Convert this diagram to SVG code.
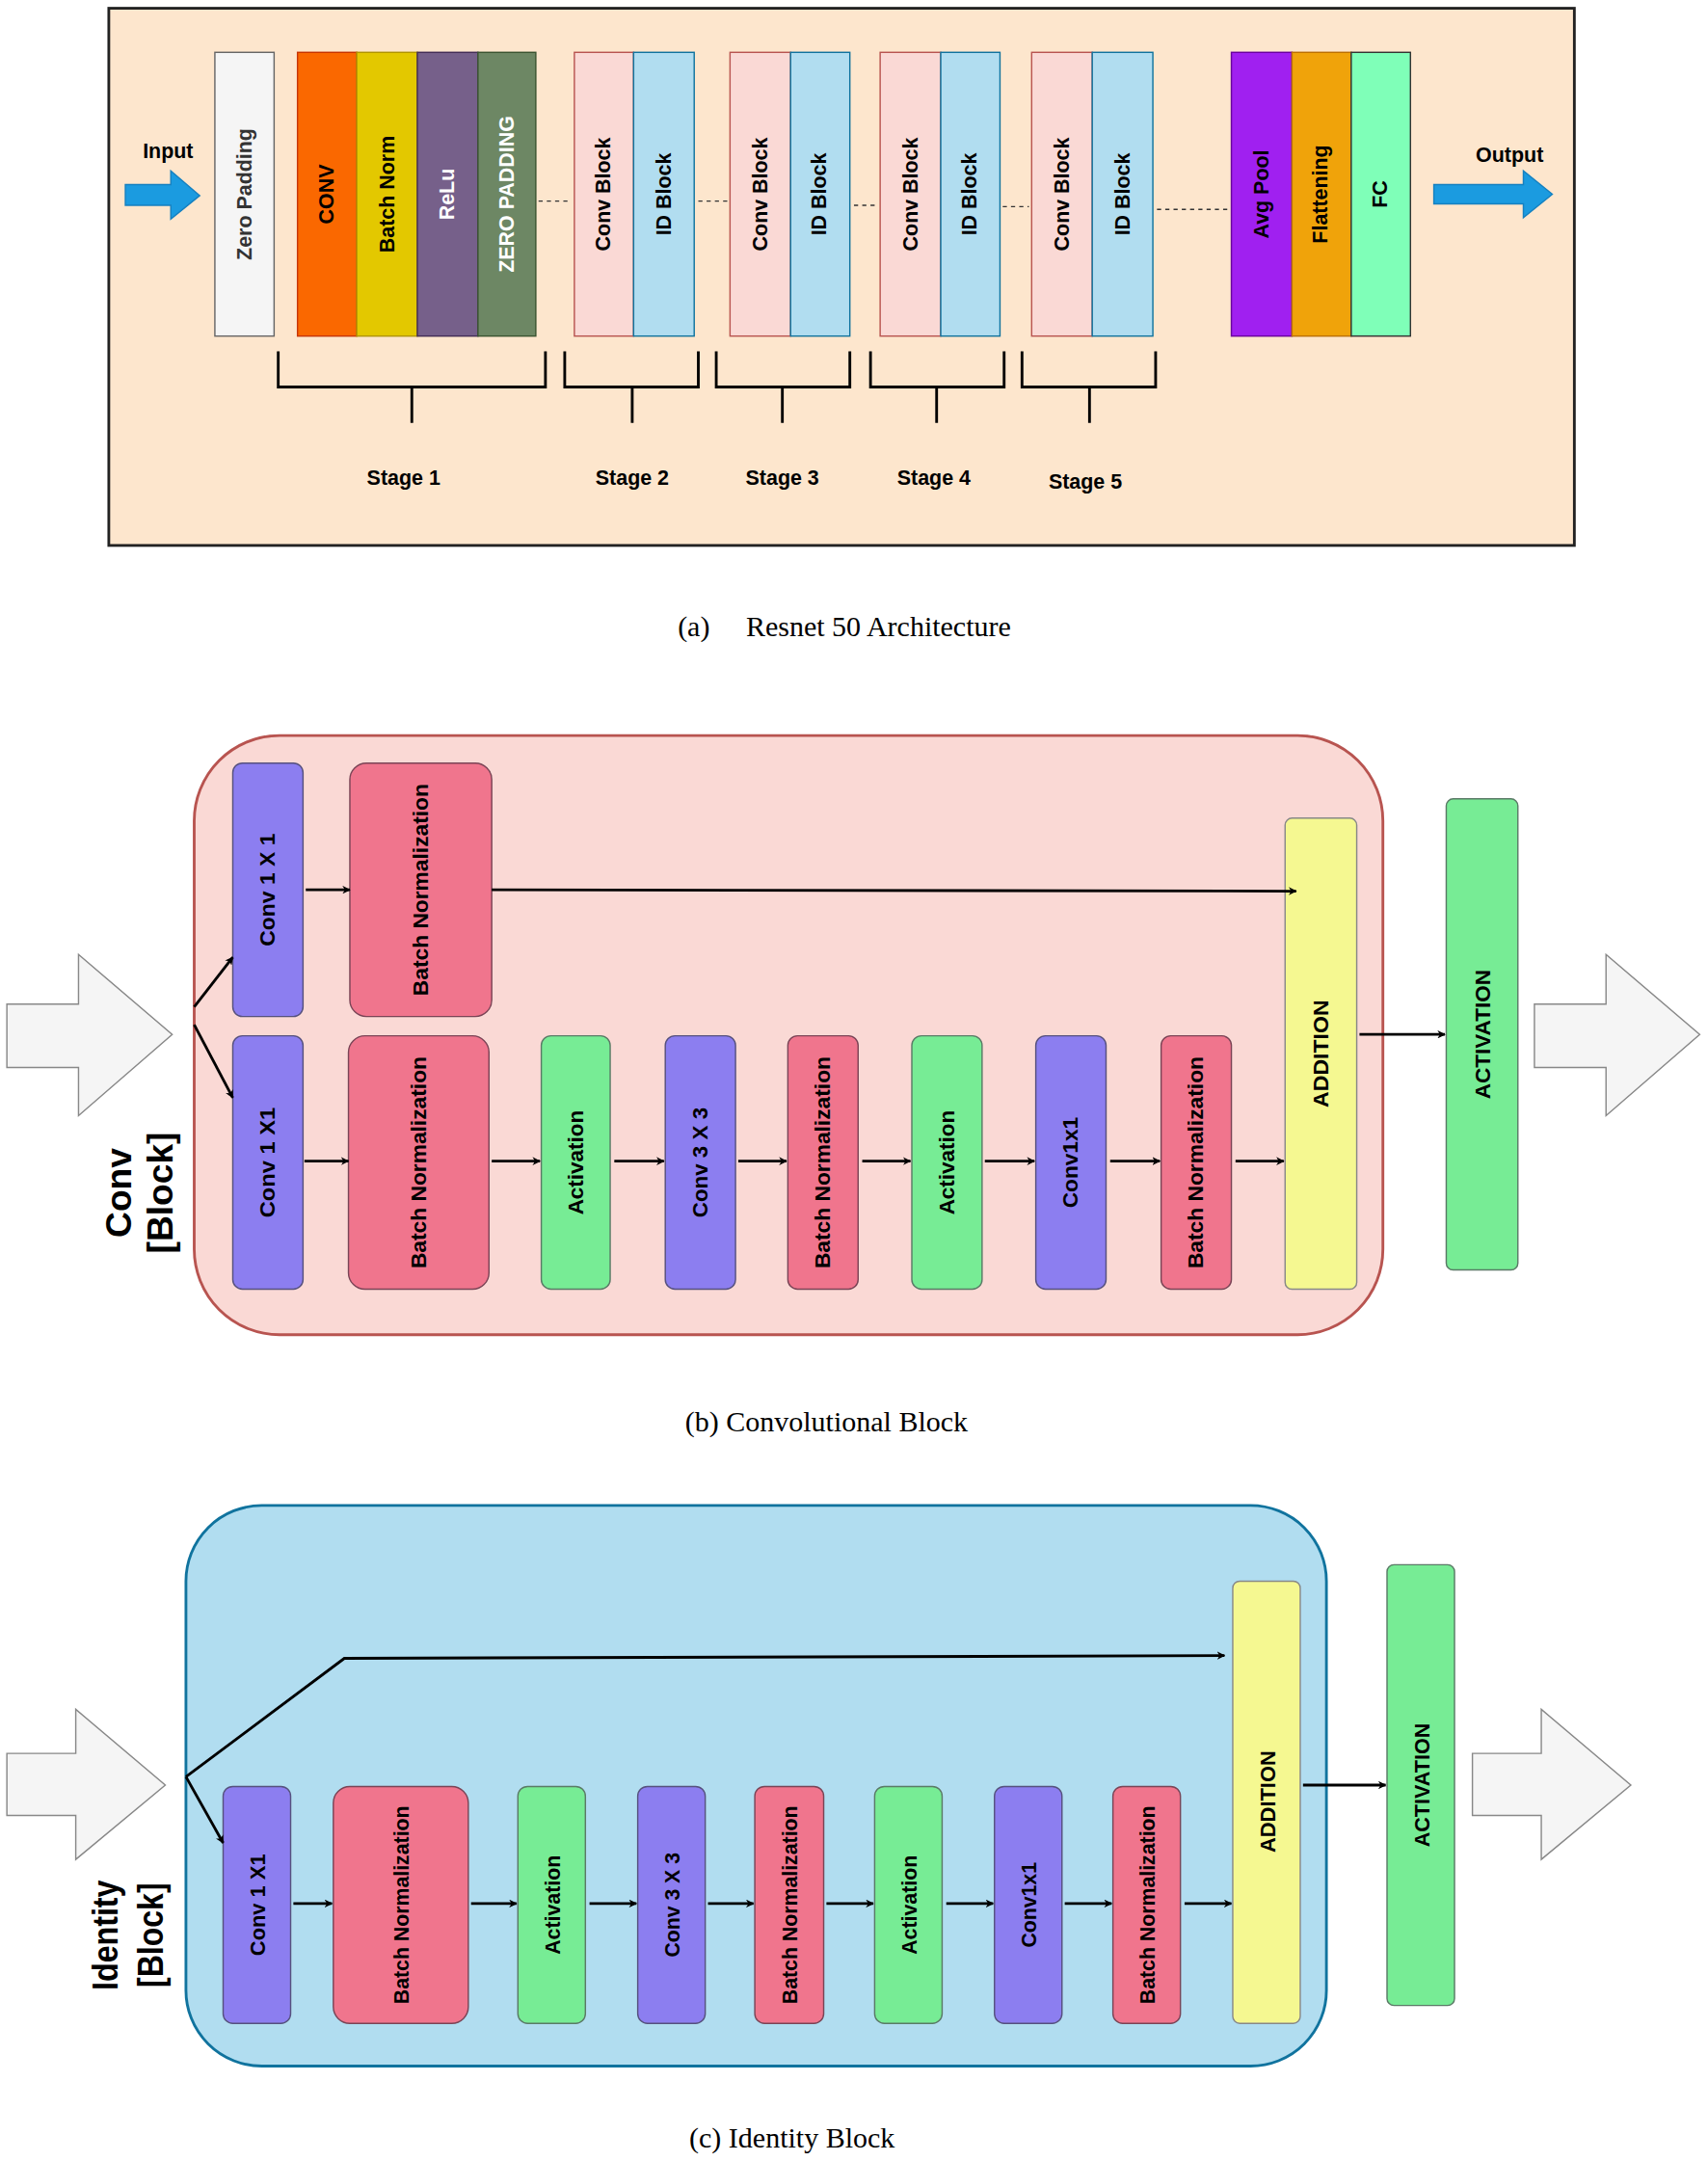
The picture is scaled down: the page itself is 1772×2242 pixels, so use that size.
<svg xmlns="http://www.w3.org/2000/svg" width="1772" height="2242" viewBox="0 0 1772 2242">
<defs>
<style>
.t{font-family:"Liberation Sans",Arial,sans-serif;font-weight:bold;text-anchor:middle;dominant-baseline:central}
.cap{font-family:"Liberation Serif","Times New Roman",serif;font-size:21px;text-anchor:middle}
.ln{stroke:#000;stroke-width:2;fill:none}
.ar{stroke:#000;stroke-width:2;fill:none;marker-end:url(#ah)}
.dot{stroke:#333;stroke-width:1;stroke-dasharray:3,3}
.pu{fill:#8C7EF0;stroke:#56517E}
.pk{fill:#F0758D;stroke:#7A4456}
.gr{fill:#77EC95;stroke:#5A7A66}
.ye{fill:#F5F891;stroke:#888}
</style>
<marker id="ah" viewBox="0 0 10 10" refX="9" refY="5" markerWidth="6" markerHeight="6" orient="auto" markerUnits="userSpaceOnUse"><path d="M0,0 L10,5 L0,10 L3,5 z" fill="#000"/></marker>
</defs>
<rect width="1772" height="2242" fill="#fff"/>
<g transform="scale(1.429)">
<!-- Panel a -->
<g id="panelA">
<rect x="79" y="6" width="1064" height="390" fill="#FDE6CD" stroke="#222" stroke-width="2"/>
<g id="input"><path d="M91,134 H124 V124 L145,142 L124,159 V149 H91 Z" fill="#1B9BE0" stroke="#1580C0"/><text class="t" x="122" y="110" font-size="15">Input</text></g>
<g id="zeropad"><rect x="156" y="38" width="43" height="206" fill="#F5F5F5" stroke="#666"/><text class="t" transform="translate(178,141) rotate(-90)" font-size="15" fill="#333">Zero Padding</text></g>
<g id="conv"><rect x="216" y="38" width="43" height="206" fill="#FA6800" stroke="#C73500"/><text class="t" transform="translate(237,141) rotate(-90)" font-size="15">CONV</text></g>
<g id="bn"><rect x="259" y="38" width="44" height="206" fill="#E3C800" stroke="#B09500"/><text class="t" transform="translate(281,141) rotate(-90)" font-size="15">Batch Norm</text></g>
<g id="relu"><rect x="303" y="38" width="44" height="206" fill="#76608A" stroke="#432D57"/><text class="t" transform="translate(325,141) rotate(-90)" font-size="15" fill="#fff">ReLu</text></g>
<g id="zp2"><rect x="347" y="38" width="42" height="206" fill="#6D8764" stroke="#3A5431"/><text class="t" transform="translate(368,141) rotate(-90)" font-size="15" fill="#fff">ZERO PADDING</text></g>
<g id="s2"><rect x="417" y="38" width="43" height="206" fill="#FAD9D5" stroke="#B85450"/><text class="t" transform="translate(438,141) rotate(-90)" font-size="15">Conv Block</text><rect x="460" y="38" width="44" height="206" fill="#B1DDF0" stroke="#10739E"/><text class="t" transform="translate(482,141) rotate(-90)" font-size="15">ID Block</text></g>
<g id="s3"><rect x="530" y="38" width="44" height="206" fill="#FAD9D5" stroke="#B85450"/><text class="t" transform="translate(552,141) rotate(-90)" font-size="15">Conv Block</text><rect x="574" y="38" width="43" height="206" fill="#B1DDF0" stroke="#10739E"/><text class="t" transform="translate(595,141) rotate(-90)" font-size="15">ID Block</text></g>
<g id="s4"><rect x="639" y="38" width="44" height="206" fill="#FAD9D5" stroke="#B85450"/><text class="t" transform="translate(661,141) rotate(-90)" font-size="15">Conv Block</text><rect x="683" y="38" width="43" height="206" fill="#B1DDF0" stroke="#10739E"/><text class="t" transform="translate(704,141) rotate(-90)" font-size="15">ID Block</text></g>
<g id="s5"><rect x="749" y="38" width="44" height="206" fill="#FAD9D5" stroke="#B85450"/><text class="t" transform="translate(771,141) rotate(-90)" font-size="15">Conv Block</text><rect x="793" y="38" width="44" height="206" fill="#B1DDF0" stroke="#10739E"/><text class="t" transform="translate(815,141) rotate(-90)" font-size="15">ID Block</text></g>
<g id="avgpool"><rect x="894" y="38" width="44" height="206" fill="#A020F0" stroke="#6A00A0"/><text class="t" transform="translate(916,141) rotate(-90)" font-size="15">Avg Pool</text></g>
<g id="flat"><rect x="938" y="38" width="43" height="206" fill="#F0A30A" stroke="#BD7000"/><text class="t" transform="translate(959,141) rotate(-90)" font-size="15">Flattening</text></g>
<g id="fc"><rect x="981" y="38" width="43" height="206" fill="#7FFFB8" stroke="#333"/><text class="t" transform="translate(1002,141) rotate(-90)" font-size="15">FC</text></g>
<g id="output"><path d="M1041,134 H1106 V124 L1127,141 L1106,158 V148 H1041 Z" fill="#1B9BE0" stroke="#1580C0"/><text class="t" x="1096" y="113" font-size="15">Output</text></g>
<g id="dots"><line class="dot" x1="391" y1="146" x2="414" y2="146"/><line class="dot" x1="507" y1="146" x2="528" y2="146"/><line class="dot" x1="620" y1="149" x2="637" y2="149"/><line class="dot" x1="728" y1="150" x2="747" y2="150"/><line class="dot" x1="840" y1="152" x2="893" y2="152"/></g>
<g id="brackets">
<path class="ln" d="M202,255 V281 H396 V255 M299,281 V307"/>
<path class="ln" d="M410,255 V281 H507 V255 M459,281 V307"/>
<path class="ln" d="M520,255 V281 H617 V255 M568,281 V307"/>
<path class="ln" d="M632,255 V281 H729 V255 M680,281 V307"/>
<path class="ln" d="M742,255 V281 H839 V255 M791,281 V307"/>
<text class="t" x="293" y="347" font-size="15">Stage 1</text>
<text class="t" x="459" y="347" font-size="15">Stage 2</text>
<text class="t" x="568" y="347" font-size="15">Stage 3</text>
<text class="t" x="678" y="347" font-size="15">Stage 4</text>
<text class="t" x="788" y="350" font-size="15">Stage 5</text>
</g>
</g>
<text class="cap" x="613" y="462" xml:space="preserve">(a)     Resnet 50 Architecture</text>

<!-- Panel b -->
<g id="panelB">
<rect x="141" y="534" width="863" height="435" rx="62" fill="#FAD9D5" stroke="#B85450" stroke-width="2"/>
<path d="M5,729 H57 V693 L125,751 L57,810 V775 H5 Z" fill="#F5F5F5" stroke="#888"/>
<path d="M1114,729 H1166 V693 L1234,751 L1166,810 V775 H1114 Z" fill="#F5F5F5" stroke="#888"/>
<text class="t" transform="translate(86,866) rotate(-90)" font-size="26">Conv</text>
<text class="t" transform="translate(116,866) rotate(-90)" font-size="26">[Block]</text>
<g id="b_c1"><rect class="pu" x="169" y="554" width="51" height="184" rx="7"/><text class="t" transform="translate(194,646) rotate(-90)" font-size="16" textLength="82" lengthAdjust="spacingAndGlyphs">Conv 1 X 1</text></g>
<g id="b_bn1"><rect class="pk" x="254" y="554" width="103" height="184" rx="12"/><text class="t" transform="translate(305,646) rotate(-90)" font-size="16" textLength="154" lengthAdjust="spacingAndGlyphs">Batch Normalization</text></g>
<g id="b_c2"><rect class="pu" x="169" y="752" width="51" height="184" rx="7"/><text class="t" transform="translate(194,844) rotate(-90)" font-size="16" textLength="80" lengthAdjust="spacingAndGlyphs">Conv 1 X1</text></g>
<g id="b_bn2"><rect class="pk" x="253" y="752" width="102" height="184" rx="12"/><text class="t" transform="translate(304,844) rotate(-90)" font-size="16" textLength="154" lengthAdjust="spacingAndGlyphs">Batch Normalization</text></g>
<g id="b_a1"><rect class="gr" x="393" y="752" width="50" height="184" rx="7"/><text class="t" transform="translate(418,844) rotate(-90)" font-size="16" textLength="76" lengthAdjust="spacingAndGlyphs">Activation</text></g>
<g id="b_c3"><rect class="pu" x="483" y="752" width="51" height="184" rx="7"/><text class="t" transform="translate(508,844) rotate(-90)" font-size="16" textLength="80" lengthAdjust="spacingAndGlyphs">Conv 3 X 3</text></g>
<g id="b_bn3"><rect class="pk" x="572" y="752" width="51" height="184" rx="7"/><text class="t" transform="translate(597,844) rotate(-90)" font-size="16" textLength="154" lengthAdjust="spacingAndGlyphs">Batch Normalization</text></g>
<g id="b_a2"><rect class="gr" x="662" y="752" width="51" height="184" rx="7"/><text class="t" transform="translate(687,844) rotate(-90)" font-size="16" textLength="76" lengthAdjust="spacingAndGlyphs">Activation</text></g>
<g id="b_c4"><rect class="pu" x="752" y="752" width="51" height="184" rx="7"/><text class="t" transform="translate(777,844) rotate(-90)" font-size="16" textLength="66" lengthAdjust="spacingAndGlyphs">Conv1x1</text></g>
<g id="b_bn4"><rect class="pk" x="843" y="752" width="51" height="184" rx="7"/><text class="t" transform="translate(868,844) rotate(-90)" font-size="16" textLength="154" lengthAdjust="spacingAndGlyphs">Batch Normalization</text></g>
<g id="b_add"><rect class="ye" x="933" y="594" width="52" height="342" rx="5"/><text class="t" transform="translate(959,765) rotate(-90)" font-size="16" textLength="78" lengthAdjust="spacingAndGlyphs">ADDITION</text></g>
<g id="b_act"><rect class="gr" x="1050" y="580" width="52" height="342" rx="5"/><text class="t" transform="translate(1076,751) rotate(-90)" font-size="16" textLength="94" lengthAdjust="spacingAndGlyphs">ACTIVATION</text></g>
<g id="b_conn">
<line class="ar" x1="141" y1="731" x2="169" y2="695"/>
<line class="ar" x1="141" y1="744" x2="169" y2="797"/>
<line class="ar" x1="222" y1="646" x2="254" y2="646"/>
<line class="ar" x1="357" y1="646" x2="941" y2="647"/>
<line class="ar" x1="221" y1="843" x2="253" y2="843"/>
<line class="ar" x1="357" y1="843" x2="392" y2="843"/>
<line class="ar" x1="446" y1="843" x2="482" y2="843"/>
<line class="ar" x1="536" y1="843" x2="571" y2="843"/>
<line class="ar" x1="626" y1="843" x2="661" y2="843"/>
<line class="ar" x1="715" y1="843" x2="751" y2="843"/>
<line class="ar" x1="806" y1="843" x2="842" y2="843"/>
<line class="ar" x1="897" y1="843" x2="932" y2="843"/>
<line class="ar" x1="987" y1="751" x2="1049" y2="751"/>
</g>
</g>
<text class="cap" x="600" y="1039">(b) Convolutional Block</text>

<!-- Panel c -->
<g id="panelC">
<rect x="135" y="1093" width="828" height="407" rx="55" fill="#B1DDF0" stroke="#10739E" stroke-width="2"/>
<path d="M5,1273 H55 V1241 L120,1296 L55,1350 V1318 H5 Z" fill="#F5F5F5" stroke="#888"/>
<path d="M1069,1273 H1119 V1241 L1184,1296 L1119,1350 V1318 H1069 Z" fill="#F5F5F5" stroke="#888"/>
<text class="t" transform="translate(76,1405) rotate(-90)" font-size="26" textLength="80" lengthAdjust="spacingAndGlyphs">Identity</text>
<text class="t" transform="translate(109,1405) rotate(-90)" font-size="26" textLength="76" lengthAdjust="spacingAndGlyphs">[Block]</text>
<g id="c_c1"><rect class="pu" x="162" y="1297" width="49" height="172" rx="7"/><text class="t" transform="translate(187,1383) rotate(-90)" font-size="16" textLength="74" lengthAdjust="spacingAndGlyphs">Conv 1 X1</text></g>
<g id="c_bn1"><rect class="pk" x="242" y="1297" width="98" height="172" rx="12"/><text class="t" transform="translate(291,1383) rotate(-90)" font-size="16" textLength="144" lengthAdjust="spacingAndGlyphs">Batch Normalization</text></g>
<g id="c_a1"><rect class="gr" x="376" y="1297" width="49" height="172" rx="7"/><text class="t" transform="translate(401,1383) rotate(-90)" font-size="16" textLength="72" lengthAdjust="spacingAndGlyphs">Activation</text></g>
<g id="c_c3"><rect class="pu" x="463" y="1297" width="49" height="172" rx="7"/><text class="t" transform="translate(488,1383) rotate(-90)" font-size="16" textLength="76" lengthAdjust="spacingAndGlyphs">Conv 3 X 3</text></g>
<g id="c_bn2"><rect class="pk" x="548" y="1297" width="50" height="172" rx="7"/><text class="t" transform="translate(573,1383) rotate(-90)" font-size="16" textLength="144" lengthAdjust="spacingAndGlyphs">Batch Normalization</text></g>
<g id="c_a2"><rect class="gr" x="635" y="1297" width="49" height="172" rx="7"/><text class="t" transform="translate(660,1383) rotate(-90)" font-size="16" textLength="72" lengthAdjust="spacingAndGlyphs">Activation</text></g>
<g id="c_c4"><rect class="pu" x="722" y="1297" width="49" height="172" rx="7"/><text class="t" transform="translate(747,1383) rotate(-90)" font-size="16" textLength="62" lengthAdjust="spacingAndGlyphs">Conv1x1</text></g>
<g id="c_bn3"><rect class="pk" x="808" y="1297" width="49" height="172" rx="7"/><text class="t" transform="translate(833,1383) rotate(-90)" font-size="16" textLength="144" lengthAdjust="spacingAndGlyphs">Batch Normalization</text></g>
<g id="c_add"><rect class="ye" x="895" y="1148" width="49" height="321" rx="5"/><text class="t" transform="translate(920,1308) rotate(-90)" font-size="16" textLength="74" lengthAdjust="spacingAndGlyphs">ADDITION</text></g>
<g id="c_act"><rect class="gr" x="1007" y="1136" width="49" height="320" rx="5"/><text class="t" transform="translate(1032,1296) rotate(-90)" font-size="16" textLength="90" lengthAdjust="spacingAndGlyphs">ACTIVATION</text></g>
<g id="c_conn">
<polyline class="ar" points="135,1290 250,1204 889,1202"/>
<line class="ar" x1="135" y1="1290" x2="162" y2="1338"/>
<line class="ar" x1="213" y1="1382" x2="241" y2="1382"/>
<line class="ar" x1="342" y1="1382" x2="375" y2="1382"/>
<line class="ar" x1="428" y1="1382" x2="462" y2="1382"/>
<line class="ar" x1="514" y1="1382" x2="547" y2="1382"/>
<line class="ar" x1="600" y1="1382" x2="634" y2="1382"/>
<line class="ar" x1="687" y1="1382" x2="721" y2="1382"/>
<line class="ar" x1="773" y1="1382" x2="807" y2="1382"/>
<line class="ar" x1="860" y1="1382" x2="894" y2="1382"/>
<line class="ar" x1="946" y1="1296" x2="1006" y2="1296"/>
</g>
</g>
<text class="cap" x="575" y="1559">(c) Identity Block</text>
</g>
</svg>
